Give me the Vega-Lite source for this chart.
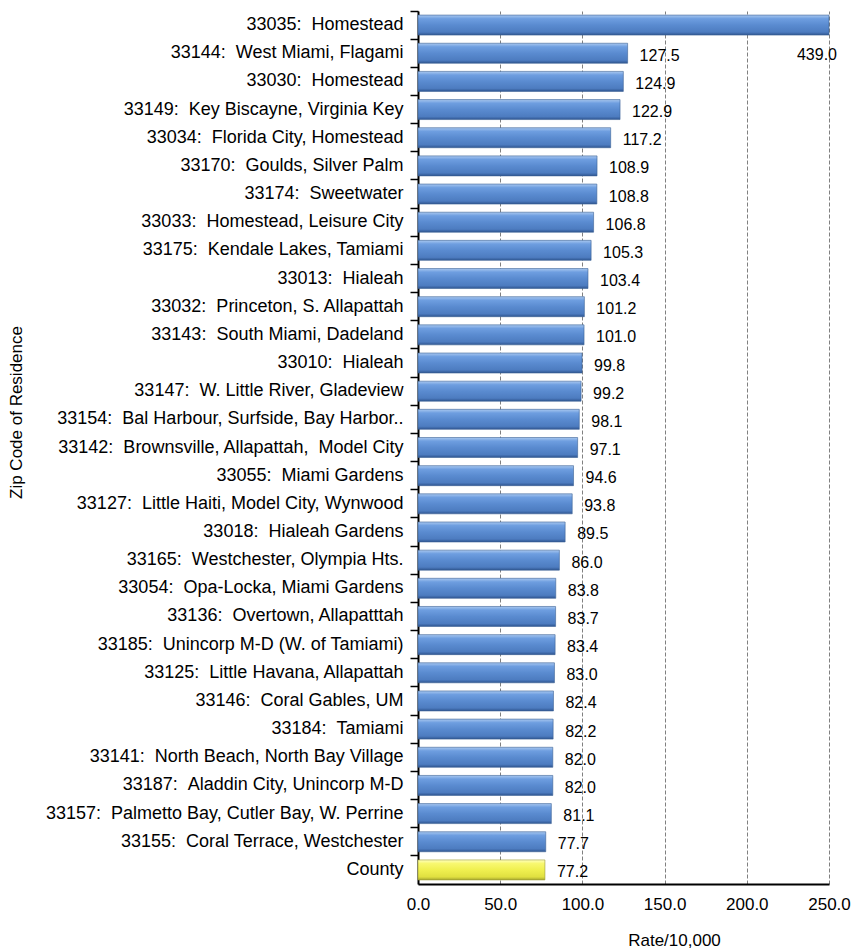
{
  "$schema": "https://vega.github.io/schema/vega-lite/v6.json",
  "width": 411,
  "height": 873,
  "autosize": {"type": "none"},
  "padding": {"left": 418, "top": 11, "right": 22, "bottom": 66},
  "background": "white",
  "config": {"view": {"stroke": null}, "font": "Liberation Sans"},
  "data": {
    "values": [
      {"zip": "33035: \u00a0Homestead", "rate": 439.0},
      {"zip": "33144: \u00a0West Miami, Flagami", "rate": 127.5},
      {"zip": "33030: \u00a0Homestead", "rate": 124.9},
      {"zip": "33149: \u00a0Key Biscayne, Virginia Key", "rate": 122.9},
      {"zip": "33034: \u00a0Florida City, Homestead", "rate": 117.2},
      {"zip": "33170: \u00a0Goulds, Silver Palm", "rate": 108.9},
      {"zip": "33174: \u00a0Sweetwater", "rate": 108.8},
      {"zip": "33033: \u00a0Homestead, Leisure City", "rate": 106.8},
      {"zip": "33175: \u00a0Kendale Lakes, Tamiami", "rate": 105.3},
      {"zip": "33013: \u00a0Hialeah", "rate": 103.4},
      {"zip": "33032: \u00a0Princeton, S. Allapattah", "rate": 101.2},
      {"zip": "33143: \u00a0South Miami, Dadeland", "rate": 101.0},
      {"zip": "33010: \u00a0Hialeah", "rate": 99.8},
      {"zip": "33147: \u00a0W. Little River, Gladeview", "rate": 99.2},
      {"zip": "33154: \u00a0Bal Harbour, Surfside, Bay Harbor..", "rate": 98.1},
      {"zip": "33142: \u00a0Brownsville, Allapattah, \u00a0Model City", "rate": 97.1},
      {"zip": "33055: \u00a0Miami Gardens", "rate": 94.6},
      {"zip": "33127: \u00a0Little Haiti, Model City, Wynwood", "rate": 93.8},
      {"zip": "33018: \u00a0Hialeah Gardens", "rate": 89.5},
      {"zip": "33165: \u00a0Westchester, Olympia Hts.", "rate": 86.0},
      {"zip": "33054: \u00a0Opa-Locka, Miami Gardens", "rate": 83.8},
      {"zip": "33136: \u00a0Overtown, Allapatttah", "rate": 83.7},
      {"zip": "33185: \u00a0Unincorp M-D (W. of Tamiami)", "rate": 83.4},
      {"zip": "33125: \u00a0Little Havana, Allapattah", "rate": 83.0},
      {"zip": "33146: \u00a0Coral Gables, UM", "rate": 82.4},
      {"zip": "33184: \u00a0Tamiami", "rate": 82.2},
      {"zip": "33141: \u00a0North Beach, North Bay Village", "rate": 82.0},
      {"zip": "33187: \u00a0Aladdin City, Unincorp M-D", "rate": 82.0},
      {"zip": "33157: \u00a0Palmetto Bay, Cutler Bay, W. Perrine", "rate": 81.1},
      {"zip": "33155: \u00a0Coral Terrace, Westchester", "rate": 77.7},
      {"zip": "County", "rate": 77.2}
    ]
  },
  "encoding": {
    "y": {
      "field": "zip",
      "type": "nominal",
      "sort": null,
      "scale": {"paddingInner": 0, "paddingOuter": 0},
      "axis": {
        "title": "Zip Code of Residence",
        "titleFontSize": 17,
        "titleFontWeight": "normal",
        "titleColor": "black",
        "titleAngle": -90,
        "titleX": -402,
        "titleY": 401,
        "titleAlign": "center",
        "titleBaseline": "middle",
        "labelFontSize": 18,
        "labelColor": "black",
        "labelLimit": 0,
        "labelPadding": 7,
        "tickSize": 8,
        "tickColor": "black",
        "tickWidth": 1.5,
        "bandPosition": 0,
        "domainColor": "black",
        "domainWidth": 2,
        "grid": false
      }
    },
    "x": {
      "field": "rate",
      "type": "quantitative",
      "scale": {"domain": [0, 250], "clamp": true, "nice": false},
      "axis": {
        "title": "Rate/10,000",
        "values": [0, 50, 100, 150, 200, 250],
        "format": ".1f",
        "grid": true,
        "gridDash": [4, 2],
        "gridColor": "#808080",
        "gridWidth": 1,
        "ticks": false,
        "tickSize": 0,
        "labelFontSize": 17,
        "labelColor": "black",
        "labelPadding": 12,
        "labelFlush": false,
        "domainColor": "black",
        "domainWidth": 2,
        "titleFontSize": 17,
        "titleFontWeight": "normal",
        "titleColor": "black",
        "titleX": 256,
        "titleY": 61,
        "titleAlign": "center",
        "titleBaseline": "alphabetic"
      }
    }
  },
  "layer": [
    {
      "transform": [{"filter": "datum.zip !== 'County'"}],
      "mark": {
        "type": "bar",
        "height": {"band": 0.71},
        "fill": {
          "gradient": "linear", "x1": 0, "y1": 0, "x2": 0, "y2": 1,
          "stops": [
            {"offset": 0, "color": "#a9c8f0"},
            {"offset": 0.18, "color": "#6e9ee0"},
            {"offset": 0.5, "color": "#5a8bd0"},
            {"offset": 0.85, "color": "#4d7cc0"},
            {"offset": 1, "color": "#2f5590"}
          ]
        },
        "stroke": "#3b6196",
        "strokeWidth": 0.6
      }
    },
    {
      "transform": [{"filter": "datum.zip === 'County'"}],
      "mark": {
        "type": "bar",
        "height": {"band": 0.71},
        "fill": {
          "gradient": "linear", "x1": 0, "y1": 0, "x2": 0, "y2": 1,
          "stops": [
            {"offset": 0, "color": "#ffffc0"},
            {"offset": 0.18, "color": "#f8f870"},
            {"offset": 0.5, "color": "#f0f050"},
            {"offset": 0.85, "color": "#e0e040"},
            {"offset": 1, "color": "#a8a830"}
          ]
        },
        "stroke": "#9a9a30",
        "strokeWidth": 0.6
      }
    },
    {
      "transform": [{"filter": "datum.rate <= 250"}],
      "mark": {"type": "text", "align": "left", "baseline": "middle", "dx": 12, "dy": 2.5, "fontSize": 16, "color": "black"},
      "encoding": {"text": {"field": "rate", "type": "quantitative", "format": ".1f"}}
    },
    {
      "transform": [{"filter": "datum.rate > 250"}],
      "mark": {"type": "text", "align": "right", "baseline": "middle", "dx": 8, "dy": 30, "fontSize": 16, "color": "black"},
      "encoding": {"text": {"field": "rate", "type": "quantitative", "format": ".1f"}}
    }
  ]
}
